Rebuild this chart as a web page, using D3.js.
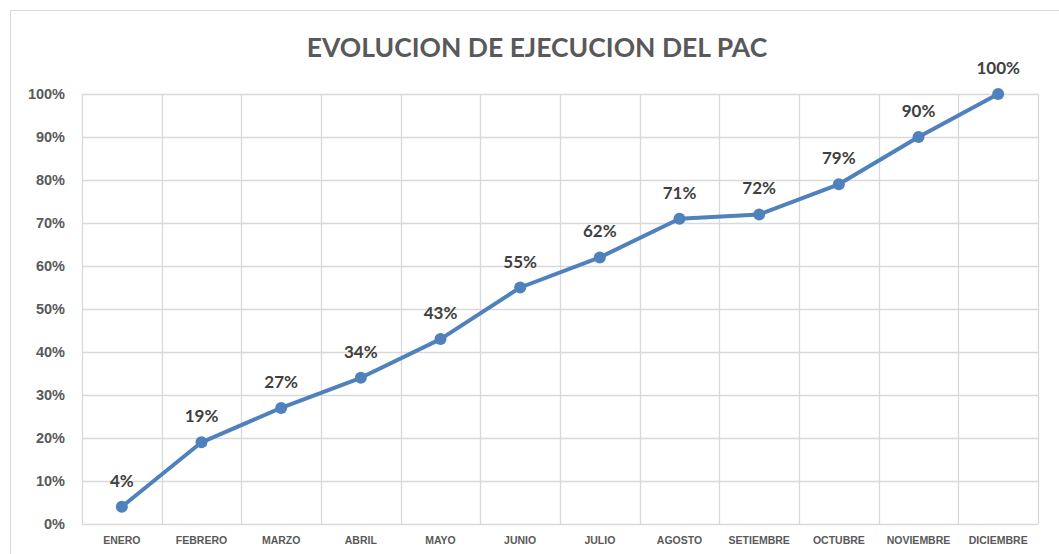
<!DOCTYPE html>
<html>
<head>
<meta charset="utf-8">
<script src="https://cdn.jsdelivr.net/npm/d3@7"></script>
<style>
  body { margin: 0; background: #fff; }
  svg { font-family: Lato, "Open Sans", sans-serif; }
</style>
</head>
<body>
<div id="chart"></div>
<script>
// chart data
const months = ["ENERO", "FEBRERO", "MARZO", "ABRIL", "MAYO", "JUNIO", "JULIO",
                "AGOSTO", "SETIEMBRE", "OCTUBRE", "NOVIEMBRE", "DICIEMBRE"];
const avance = [4, 19, 27, 34, 43, 55, 62, 71, 72, 79, 90, 100];
const yTicks = [0, 10, 20, 30, 40, 50, 60, 70, 80, 90, 100];
const title = "EVOLUCION DE EJECUCION DEL PAC";

const W = 1059, H = 554;
const margin = {top: 94, right: 21, bottom: 30, left: 82};
const width = W - margin.left - margin.right;
const height = 524 - margin.top;

const svg = d3.select("#chart").append("svg")
    .attr("width", W).attr("height", H);

// outer chart border
svg.append("rect")
    .attr("x", 10.5).attr("y", 10.5)
    .attr("width", W + 20).attr("height", H + 20)
    .attr("fill", "none").attr("stroke", "#d9d9d9").attr("stroke-width", 1);

svg.append("text")
    .attr("x", 537).attr("y", 57)
    .attr("text-anchor", "middle")
    .style("font-size", "26.5px").style("font-weight", "bold")
    .attr("fill", "#595959")
    .text(title);

const g = svg.append("g")
    .attr("transform", "translate(" + margin.left + "," + margin.top + ")");

const x = d3.scaleBand().domain(months).range([0, width]);
const y = d3.scaleLinear().domain([0, 100]).range([height, 0]);

// horizontal grid
g.append("g").selectAll("line").data(yTicks).enter().append("line")
    .attr("x1", 0).attr("x2", width)
    .attr("y1", d => Math.round(y(d)) + 0.5).attr("y2", d => Math.round(y(d)) + 0.5)
    .attr("stroke", "#d9d9d9").attr("stroke-width", 1.3);

// vertical grid at band edges
const edges = months.map(m => x(m)).concat([width]);
g.append("g").selectAll("line").data(edges).enter().append("line")
    .attr("x1", d => Math.round(d) + 0.5).attr("x2", d => Math.round(d) + 0.5)
    .attr("y1", 0).attr("y2", height)
    .attr("stroke", "#d9d9d9").attr("stroke-width", 1.3);

// y axis labels
const yAxis = g.append("g")
    .call(d3.axisLeft(y).tickValues(yTicks).tickFormat(d => d + "%").tickSize(0).tickPadding(17));
yAxis.select(".domain").remove();
yAxis.selectAll("text")
    .attr("fill", "#595959")
    .style("font-size", "14.5px").style("font-weight", "bold");

// x axis labels
const xAxis = g.append("g")
    .attr("transform", "translate(0," + height + ")")
    .call(d3.axisBottom(x).tickSize(0).tickPadding(13));
xAxis.select(".domain").remove();
xAxis.selectAll("text")
    .attr("fill", "#595959")
    .style("font-size", "10.5px").style("font-weight", "bold");

const pts = months.map((m, i) => ({m: m, v: avance[i]}));

const line = d3.line()
    .x(d => x(d.m) + x.bandwidth() / 2)
    .y(d => y(d.v));

g.append("path")
    .datum(pts)
    .attr("d", line)
    .attr("fill", "none")
    .attr("stroke", "#4f81bd")
    .attr("stroke-width", 4)
    .attr("stroke-linejoin", "round");

g.selectAll("circle.pt").data(pts).enter().append("circle")
    .attr("class", "pt")
    .attr("cx", d => x(d.m) + x.bandwidth() / 2)
    .attr("cy", d => y(d.v))
    .attr("r", 6)
    .attr("fill", "#4f81bd");

g.selectAll("text.lbl").data(pts).enter().append("text")
    .attr("class", "lbl")
    .attr("x", d => x(d.m) + x.bandwidth() / 2)
    .attr("y", d => y(d.v) - 20)
    .attr("text-anchor", "middle")
    .attr("fill", "#404040")
    .style("font-size", "17px").style("font-weight", "bold")
    .text(d => d.v + "%");
</script>
</body>
</html>
